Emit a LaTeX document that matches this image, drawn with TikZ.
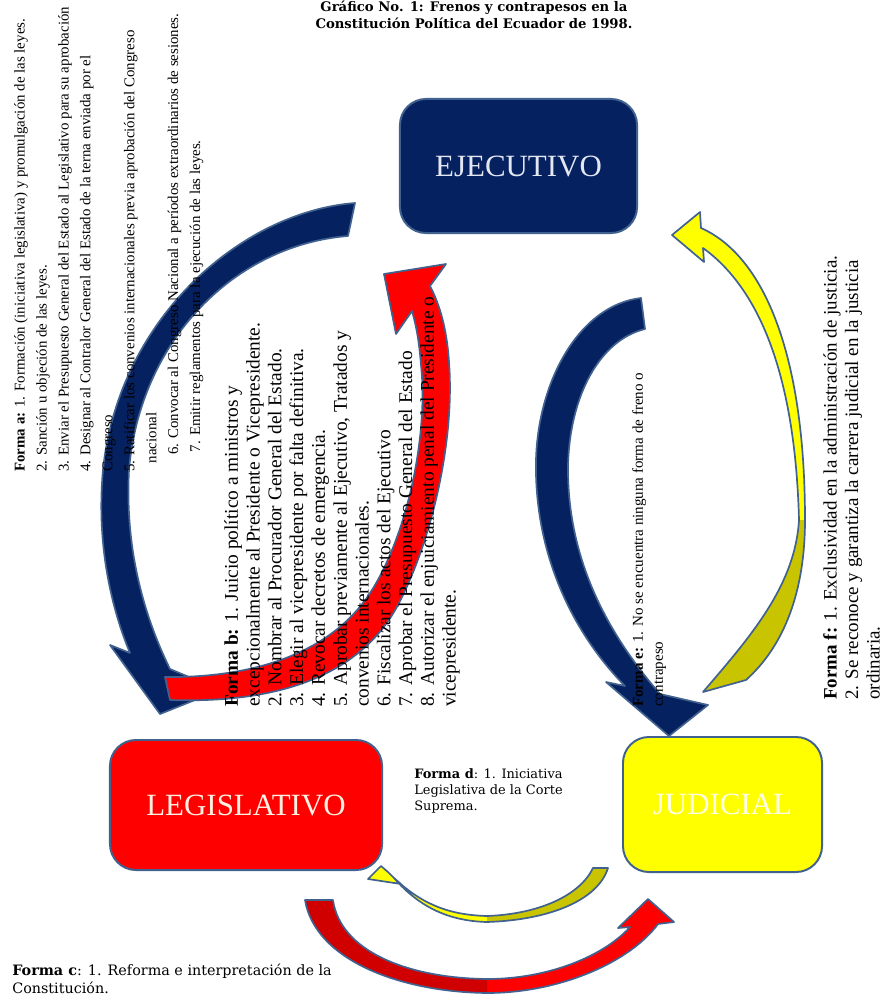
\documentclass[tikz,border=0pt]{standalone}
\usepackage{fontspec}
\setmainfont{Liberation Serif}
\newfontfamily\notefont{DejaVu Serif}
\usepackage{xcolor}
\usepackage{tikz}
\usetikzlibrary{positioning}

\definecolor{navy}{RGB}{6,33,96}
\definecolor{edgeblue}{RGB}{65,97,143}
\definecolor{redlight}{RGB}{255,0,0}
\definecolor{reddark}{RGB}{208,0,0}
\definecolor{yellight}{RGB}{255,255,0}
\definecolor{yeldark}{RGB}{200,196,0}
\definecolor{ejectext}{RGB}{226,231,242}
\definecolor{legistext}{RGB}{255,240,226}
\definecolor{judictext}{RGB}{255,255,232}

\begin{document}
\begin{tikzpicture}[
  x=0.025cm, y=-0.025cm,
  branch/.style={draw=edgeblue, line width=1.4pt, rounded corners=0.65cm, inner sep=0pt, font=\fontsize{22}{26}\selectfont},
  band/.style={draw=edgeblue, line width=1.2pt, line join=round},
  vnote/.style={rotate=90, anchor=north west, inner sep=0pt, align=left},
  hnote/.style={inner sep=0pt, align=left, font=\notefont\fontsize{9.2}{11.4}\selectfont},
  yelright/.style={insert path={(701,228) .. controls (762,255) and (805,350) .. (805,520)
    .. controls (805,590) and (785,645) .. (746,680) -- (703,692)
    .. controls (752,635) and (795,585) .. (799,520)
    .. controls (795,370) and (757,287) .. (703,248) -- (704,262) -- (672,235) -- (700,212) -- cycle}},
  yelbottom/.style={insert path={(394,878) .. controls (420,908) and (450,921) .. (487,922)
    .. controls (550,920) and (598,900) .. (608,868) -- (593,868)
    .. controls (580,895) and (540,914) .. (487,916)
    .. controls (450,915) and (420,905) .. (388,872) -- (381,866) -- (368,879) -- (401,884) -- cycle}},
  redbottom/.style={insert path={(305,900) .. controls (315,960) and (400,992) .. (487,993)
    .. controls (560,993) and (630,962) .. (658,924) -- (674,922) -- (648,899) -- (618,928) -- (630,927)
    .. controls (605,955) and (550,979) .. (487,979)
    .. controls (405,978) and (340,950) .. (333,900) -- cycle}}
]
\useasboundingbox (0,0) rectangle (883,1004);

\filldraw[band, fill=navy] (355,203) .. controls (240,212) and (118,320) .. (103,470)
  .. controls (96,545) and (112,610) .. (130,653) -- (110,645) -- (160,714) -- (220,690) -- (170,669)
  .. controls (142,612) and (125,545) .. (129,470)
  .. controls (140,340) and (235,245) .. (348,236) -- cycle;

\filldraw[band, fill=redlight] (165,677) .. controls (250,678) and (335,655) .. (375,585)
  .. controls (410,525) and (428,430) .. (421,365) .. controls (419,340) and (416,325) .. (412,311)
  -- (396,334) -- (384,274) -- (446,264) -- (430,286)
  .. controls (440,305) and (447,330) .. (449,362)
  .. controls (455,440) and (432,540) .. (398,605)
  .. controls (355,685) and (260,703) .. (170,700) -- cycle;

\filldraw[band, fill=navy] (641,298) .. controls (580,305) and (538,380) .. (536,460)
  .. controls (534,550) and (570,630) .. (625,686) -- (606,682) -- (669,736) -- (708,705) -- (660,694)
  .. controls (600,625) and (567,550) .. (568,465)
  .. controls (570,395) and (600,340) .. (645,329) -- cycle;

\fill[yellight, yelright];
\begin{scope}
  \clip (0,520) rectangle (883,1004);
  \fill[yeldark, yelright];
\end{scope}
\draw[band, yelright];

\fill[yellight, yelbottom];
\begin{scope}
  \clip (487,0) rectangle (883,1004);
  \fill[yeldark, yelbottom];
\end{scope}
\draw[band, yelbottom];

\fill[redlight, redbottom];
\begin{scope}
  \clip (0,0) rectangle (487,1004);
  \fill[reddark, redbottom];
\end{scope}
\draw[band, redbottom];

\node[branch, fill=navy, text=ejectext, minimum width=5.925cm, minimum height=3.35cm] (ejec) at (518.5,166) {EJECUTIVO};
\node[branch, fill=redlight, text=legistext, minimum width=6.8cm, minimum height=3.25cm] (legis) at (246,805) {LEGISLATIVO};
\node[branch, fill=yellight, text=judictext, minimum width=4.975cm, minimum height=3.375cm] (judic) at (722.5,804.5) {JUDICIAL};

\node[font=\notefont\bfseries\fontsize{9.4}{12}\selectfont, align=center, anchor=north, inner sep=0pt] (title) at (474,1)
  {Gráfico No. 1: Frenos y contrapesos en la\\Constitución Política del Ecuador de 1998.};

\node[vnote, font=\fontsize{10.6}{15.6}\selectfont] (fa) at (14,472)
  {\textbf{Forma a:} 1. Formación (iniciativa legislativa) y promulgación de las leyes.\\
   2. Sanción u objeción de las leyes.\\
   3. Enviar el Presupuesto General del Estado al Legislativo para su aprobación\\
   4. Designar al Contralor General del Estado de la terna enviada por el\\
   Congreso\\
   5. Ratificar los convenios internacionales previa aprobación del Congreso\\
   \hspace*{6pt}nacional\\
   \hspace*{12pt}6. Convocar al Congreso Nacional a períodos extraordinarios de sesiones.\\
   \hspace*{14pt}7. Emitir reglamentos para la ejecución de las leyes.};

\node[vnote, font=\fontsize{13.8}{15.5}\selectfont] (fb) at (224,707)
  {\textbf{Forma b:} 1. Juicio político a ministros y\\
   excepcionalmente al Presidente o Vicepresidente.\\
   2. Nombrar al Procurador General del Estado.\\
   3. Elegir al vicepresidente por falta definitiva.\\
   4. Revocar decretos de emergencia.\\
   5. Aprobar previamente al Ejecutivo, Tratados y\\
   convenios internacionales.\\
   6. Fiscalizar los actos del Ejecutivo\\
   7. Aprobar el Presupuesto General del Estado\\
   8. Autorizar el enjuiciamiento penal del Presidente o\\
   vicepresidente.};

\node[vnote, font=\fontsize{10.7}{14.2}\selectfont] (fe) at (632,707)
  {\textbf{Forma e:} 1. No se encuentra ninguna forma de freno o\\
   contrapeso};

\node[vnote, font=\fontsize{13.5}{15.3}\selectfont] (ff) at (823,700)
  {\textbf{Forma f:} 1. Exclusividad en la administración de justicia.\\
   2. Se reconoce y garantiza la carrera judicial en la justicia\\
   ordinaria.};

\node[hnote, below right=0.725cm and 0.775cm of legis.north east] (fd)
  {\textbf{Forma d}: 1. Iniciativa\\Legislativa de la Corte\\Suprema.};

\node[hnote, font=\notefont\fontsize{10.2}{12.8}\selectfont, anchor=north west] (fc) at (12,964)
  {\textbf{Forma c}: 1. Reforma e interpretación de la\\Constitución.};
\end{tikzpicture}
\end{document}
